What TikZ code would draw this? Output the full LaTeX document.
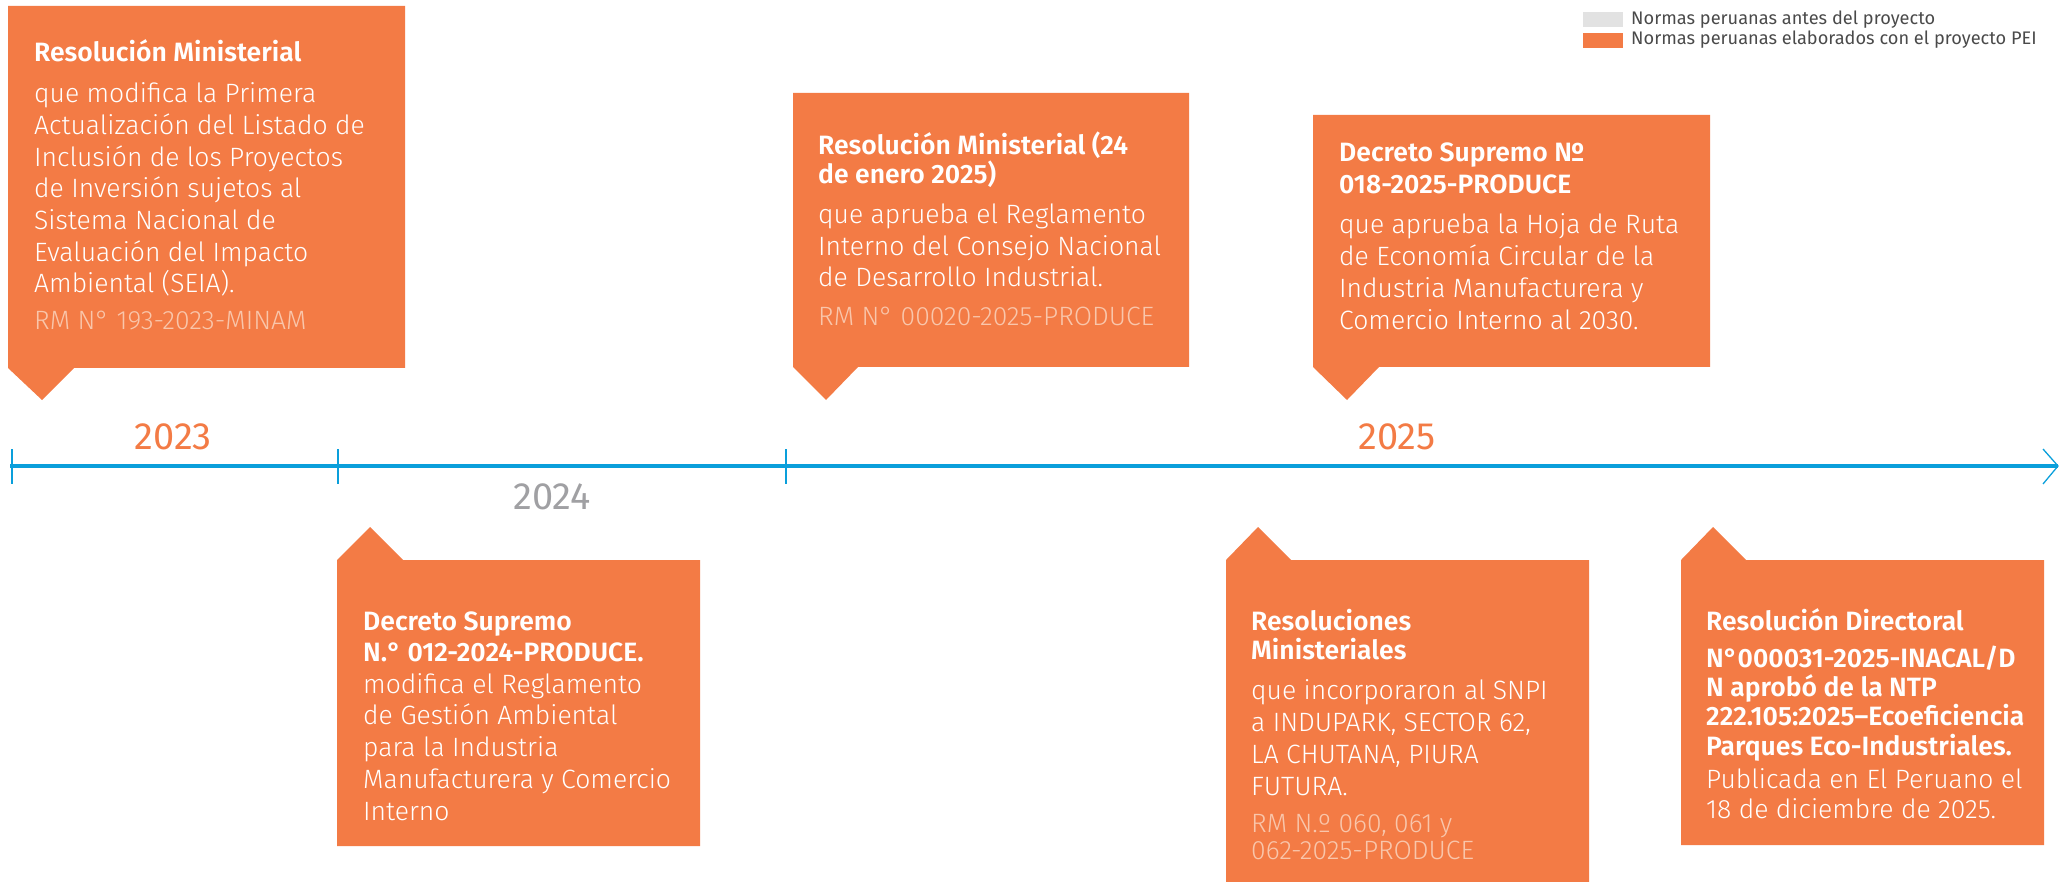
\documentclass[tikz,border=0pt]{standalone}
\usepackage{fontspec}
\setmainfont{Fira Sans}
\newfontfamily\lightf{Fira Sans Light}
\newfontfamily\boldf{Fira Sans SemiBold}
\definecolor{orng}{HTML}{F37B45}
\definecolor{rmcol}{HTML}{F9C6AB}
\definecolor{tlblue}{HTML}{0A9FDB}
\definecolor{lgray}{HTML}{E2E2E2}
\definecolor{yeargray}{HTML}{A0A0A3}
\definecolor{legtext}{HTML}{4A4A4A}
\tikzset{
  card/.style={fill=orng, draw=none},
  head/.style={anchor=base west, inner sep=0pt, align=left, text=white, font=\boldf\fontsize{26.5}{#1}\selectfont},
  head/.default=31,
  body/.style={anchor=base west, inner sep=0pt, align=left, text=white, font=\lightf\fontsize{26.5}{#1}\selectfont},
  body/.default=31.7,
  refn/.style={anchor=base west, inner sep=0pt, align=left, text=rmcol, font=\lightf\fontsize{26.5}{#1}\selectfont},
  refn/.default=27,
  year/.style={inner sep=0pt, font=\fontsize{38}{40}\selectfont},
  tick/.style={draw=tlblue, line width=1.2pt},
  legend/.style={anchor=base west, inner sep=0pt, text=legtext, font=\fontsize{18.2}{19}\selectfont}
}
\begin{document}
\begin{tikzpicture}[x=1pt,y=-1pt]
\useasboundingbox (0,0) rectangle (2069,882);
% ---- cards (top)
\fill[card] (8,6) -- (405,6) -- (405,368) -- (74,368) -- (42,400) -- (8,368) -- cycle;
\fill[card] (793,93) -- (1189,93) -- (1189,367) -- (858,367) -- (826,400) -- (793,367) -- cycle;
\fill[card] (1313,115) -- (1710,115) -- (1710,367) -- (1379,367) -- (1347,400) -- (1313,367) -- cycle;
% ---- cards (bottom)
\fill[card] (337,560) -- (370,527) -- (403,560) -- (700,560) -- (700,846) -- (337,846) -- cycle;
\fill[card] (1226,560) -- (1258,527) -- (1291,560) -- (1589,560) -- (1589,882) -- (1226,882) -- cycle;
\fill[card] (1681,560) -- (1713,527) -- (1746,560) -- (2044,560) -- (2044,845) -- (1681,845) -- cycle;
% ---- timeline
\coordinate (tlstart) at (10,466);
\coordinate (tlend) at (2058,466);
\draw[tlblue, line width=3.5pt] (tlstart) -- (tlend);
\draw[tick] (12,449) -- (12,484);
\draw[tick] (338,449) -- (338,484);
\draw[tick] (786,449) -- (786,484);
\draw[tlblue, line width=1.3pt] (2043,449) -- (tlend) -- (2043,484);
\node[year, text=orng] (y2023) at (173,437) {2023};
\node[year, text=yeargray] (y2024) at (552,497) {2024};
\node[year, text=orng] (y2025) at (1397,437) {2025};
% ---- card 1 (node positions are baselines of the LAST line)
\node[head] (h1) at (34,62) {Resolución Ministerial};
\node[body] (b1) at (34,293) {que modifica la Primera\\Actualización del Listado de\\Inclusión de los Proyectos\\de Inversión sujetos al\\Sistema Nacional de\\Evaluación del Impacto\\Ambiental (SEIA).};
\node[refn] (r1) at (34,330) {RM N° 193-2023-MINAM};
% ---- card 2
\node[head=29] (h2) at (818,184) {Resolución Ministerial (24\\de enero 2025)};
\node[body=31.5] (b2) at (818,287) {que aprueba el Reglamento\\Interno del Consejo Nacional\\de Desarrollo Industrial.};
\node[refn] (r2) at (818,326) {RM N° 00020-2025-PRODUCE};
% ---- card 3
\node[head=32] (h3) at (1339,194) {Decreto Supremo №\\018-2025-PRODUCE};
\node[body=32] (b3) at (1339,330) {que aprueba la Hoja de Ruta\\de Economía Circular de la\\Industria Manufacturera y\\Comercio Interno al 2030.};
% ---- card 4
\node[head=31] (h4) at (363,661) {Decreto Supremo\\N.° 012-2024-PRODUCE.};
\node[body=31.7] (b4) at (363,820) {modifica el Reglamento\\de Gestión Ambiental\\para la Industria\\Manufacturera y Comercio\\Interno};
% ---- card 5
\node[head=29] (h5) at (1251,659) {Resoluciones\\Ministeriales};
\node[body=31.7] (b5) at (1251,795) {que incorporaron al SNPI\\a INDUPARK, SECTOR 62,\\LA CHUTANA, PIURA\\FUTURA.};
\node[refn=27] (r5) at (1251,859) {RM N.º 060, 061 y\\062-2025-PRODUCE};
% ---- card 6
\node[head] (h6) at (1706,630) {Resolución Directoral};
\node[head=29.3] (h6b) at (1706,755) {N°000031-2025-INACAL/D\\N aprobó de la NTP\\222.105:2025–Ecoeficiencia\\Parques Eco-Industriales.};
\node[body=30] (b6) at (1706,818) {Publicada en El Peruano el\\18 de diciembre de 2025.};
% ---- legend
\fill[lgray] (1583,12) rectangle (1623,27);
\fill[orng] (1583,33) rectangle (1623,48);
\node[legend] (l1) at (1631,25) {Normas peruanas antes del proyecto};
\node[legend] (l2) at (1631,45) {Normas peruanas elaborados con el proyecto PEI};
\end{tikzpicture}
\end{document}
